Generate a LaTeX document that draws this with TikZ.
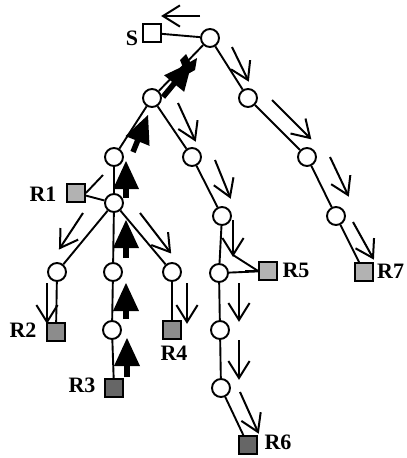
\documentclass[tikz,border=0pt]{standalone}
\usepackage{fontspec}
\setmainfont{Liberation Serif}
\usetikzlibrary{calc}
\newcommand\myfarrow[2]{%
  \path ($(#2)!28pt!(#1)$) coordinate (hb);
  \draw[line width=5.5pt] (#1) -- ($(#2)!22pt!(#1)$);
  \fill ($(hb)!13pt!90:(#2)$) -- (#2) -- ($(hb)!13pt!-90:(#2)$) -- cycle;}
\newcommand\myoarrow[2]{%
  \draw[line width=2pt] (#1) -- (#2);
  \draw[line width=2pt,line join=miter] ($(#2)!20pt!32:(#1)$) -- (#2) -- ($(#2)!20pt!-32:(#1)$);}
\begin{document}
\begin{tikzpicture}[x=1pt,y=-1pt,
  circ/.style={circle,draw,line width=1.9pt,minimum size=18pt,inner sep=0pt,fill=white},
  sq/.style={rectangle,draw,line width=1.8pt,minimum size=18pt,inner sep=0pt},
  edge/.style={line width=1.9pt},
  lab/.style={font=\fontsize{22}{22}\selectfont\bfseries,inner sep=0pt}]
\useasboundingbox (0,0) rectangle (407,458);
% nodes
\node[sq,fill=white] (S) at (152,33) {};
\node[circ] (A) at (210,38) {};
\node[circ] (B) at (152,98) {};
\node[circ] (C) at (248,98) {};
\node[circ] (D) at (114,157) {};
\node[circ] (E) at (192,157) {};
\node[circ] (F) at (114,203) {};
\node[sq,fill=black!30] (R1) at (76,193) {};
\node[circ] (G) at (57,272) {};
\node[circ] (H) at (113,272) {};
\node[circ] (I) at (172,272) {};
\node[sq,fill=black!45] (R2) at (56,332) {};
\node[circ] (H2) at (112,330) {};
\node[sq,fill=black!60] (R3) at (114,388) {};
\node[sq,fill=black!45] (R4) at (172,330) {};
\node[circ] (J) at (222,216) {};
\node[circ] (K) at (219,273) {};
\node[sq,fill=black!30] (R5) at (268,271) {};
\node[circ] (L) at (220,330) {};
\node[circ] (M) at (221,388) {};
\node[sq,fill=black!60] (R6) at (248,445) {};
\node[circ] (N) at (307,157) {};
\node[circ] (O) at (336,216) {};
\node[sq,fill=black!30] (R7) at (364,272) {};
% labels
\node[lab] (lS) at (132,38) {S};
\node[lab] (l1) at (43,194) {R1};
\node[lab] (l2) at (23,330) {R2};
\node[lab] (l3) at (82,385) {R3};
\node[lab] (l4) at (174,353) {R4};
\node[lab] (l5) at (296,270) {R5};
\node[lab,anchor=west] (l7) at (377,271) {R7};
\node[lab] (l6) at (278,442) {R6};
% edges
\draw[edge] (S) -- (A);
\draw[edge] (A) -- (B);
\draw[edge] (A) -- (C);
\draw[edge] (B) -- (D);
\draw[edge] (B) -- (E);
\draw[edge] (D) -- (F);
\draw[edge] (F) -- (R1);
\draw[edge] (F) -- (G);
\draw[edge] (F) -- (H);
\draw[edge] (F) -- (I);
\draw[edge] (G) -- (R2);
\draw[edge] (H) -- (H2);
\draw[edge] (H2) -- (R3);
\draw[edge] (I) -- (R4);
\draw[edge] (E) -- (J);
\draw[edge] (J) -- (K);
\draw[edge] (K) -- (R5);
\draw[edge] (K) -- (L);
\draw[edge] (L) -- (M);
\draw[edge] (M) -- (R6);
\draw[edge] (C) -- (N);
\draw[edge] (N) -- (O);
\draw[edge] (O) -- (R7);
% open arrows
\myoarrow{200,16}{163,16}
\myoarrow{232,47}{248,80}
\myoarrow{178,103}{195,140}
\myoarrow{272,100}{310,138}
\myoarrow{215,160}{230,197}
\myoarrow{330,157}{348,195}
\myoarrow{233,220}{233,255}
\myoarrow{353,222}{373,258}
\myoarrow{239,283}{239,320}
\myoarrow{239,340}{239,378}
\myoarrow{240,392}{258,432}
\myoarrow{83,213}{60,248}
\myoarrow{140,213}{170,252}
\myoarrow{47,283}{47,322}
\myoarrow{187,283}{187,322}
\draw[edge] (103,175) -- (R1.east);
\draw[edge] (233,255) -- (R5.west);
\draw[edge] (245,271) -- (R5.west);
% filled arrows
\myfarrow{163,97}{192,62}
\fill (180,60) -- (186,54) -- (190,62) -- (197,58) -- (195,70) -- (186,75) -- cycle;
\myfarrow{133,152}{148,115}
\myfarrow{126,198}{126,161}
\myfarrow{126,258}{126,220}
\myfarrow{126,319}{126,283}
\myfarrow{127,377}{127,338}
\end{tikzpicture}
\end{document}
